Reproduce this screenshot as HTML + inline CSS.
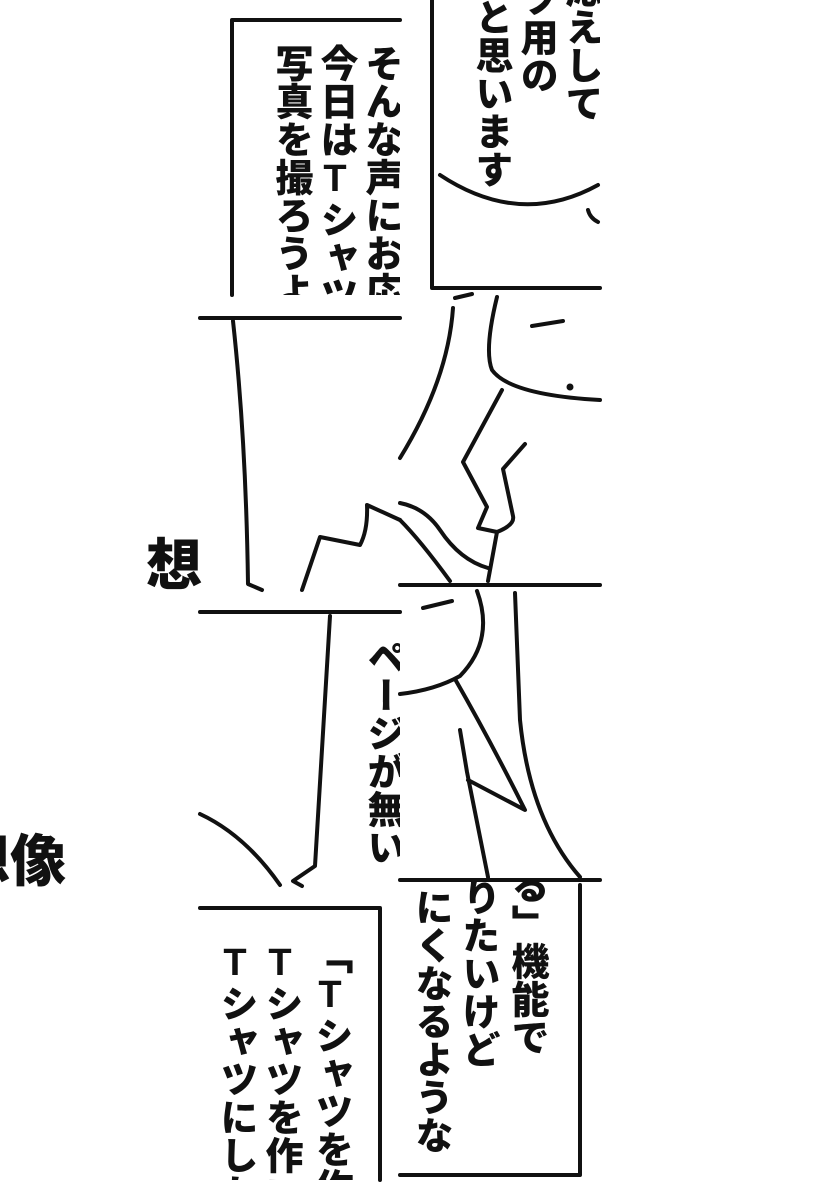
<!DOCTYPE html>
<html><head><meta charset="utf-8"><style>
html,body{margin:0;padding:0;background:#fff;}
body{width:820px;height:1200px;position:relative;overflow:hidden;}
.clip{position:absolute;overflow:hidden;}
.v{position:absolute;writing-mode:vertical-rl;text-orientation:upright;font-family:"Liberation Sans","Noto Sans CJK JP",sans-serif;font-weight:900;font-size:38px;line-height:38px;color:#111;white-space:nowrap;letter-spacing:0px;}
.big{position:absolute;font-family:"Liberation Sans","Noto Sans CJK JP",sans-serif;font-weight:900;font-size:56px;line-height:56px;color:#111;white-space:nowrap;}
svg{position:absolute;left:0;top:0;}
</style></head><body>
<svg width="820" height="1200" viewBox="0 0 820 1200" fill="none" stroke="#111" stroke-width="4" stroke-linecap="round" stroke-linejoin="round">
<path d="M232,295 L232,20 L400,20"/>
<path d="M432,0 L432,288 L600,288"/>
<path d="M440,175 Q520,228 598,185"/>
<path d="M588,210 Q590,218 598,222"/>
<path d="M455,298 L472,294"/>
<path d="M200,318 L400,318"/>
<path d="M233,321 Q246,440 248,584 L262,590"/>
<path d="M302,590 L320,537 L360,545 Q368,530 367,505 L400,520"/>
<path d="M453,308 Q448,380 400,458"/>
<path d="M497,297 Q484,350 492,370 Q510,395 600,400"/>
<path d="M532,326 L563,321"/>
<circle cx="570" cy="387" r="1.5" fill="#111"/>
<path d="M502,390 L463,462 L487,507 L478,528 L497,532 Q515,525 513,516 L503,469 L525,444"/>
<path d="M497,532 L488,581"/>
<path d="M400,503 Q425,508 440,530 Q460,560 488,568"/>
<path d="M400,520 Q420,540 450,581"/>
<path d="M400,585 L600,585"/>
<path d="M200,612 L400,612"/>
<path d="M330,616 L315,866 L293,881 L302,886"/>
<path d="M200,814 Q245,835 280,885"/>
<path d="M423,608 L452,601"/>
<path d="M477,591 Q495,640 460,676 Q435,690 400,694"/>
<path d="M455,679 Q490,740 525,810 L468,780"/>
<path d="M460,730 L467,772 L488,877"/>
<path d="M515,593 L520,720 Q530,820 580,877"/>
<path d="M400,880 L600,880"/>
<path d="M200,908 L380,908 L380,1180"/>
<path d="M580,885 L580,1175 L400,1175"/>
</svg>

<div class="clip" style="left:200px;top:0;width:200px;height:295px;">
<div class="v" style="left:161px;top:44px;">そんな声にお応</div>
<div class="v" style="left:116px;top:44px;">今日はTシャツ</div>
<div class="v" style="left:71px;top:44px;">写真を撮ろうよ</div>
</div>
<div class="clip" style="left:400px;top:0;width:200px;height:290px;">
<div class="v" style="left:161px;top:-30px;">応えして</div>
<div class="v" style="left:116px;top:-20px;">ツ用の</div>
<div class="v" style="left:71px;top:-2px;">と思います</div>
</div>
<div class="big" style="left:146px;top:538px;">想</div>
<div class="clip" style="left:0;top:820px;width:100px;height:80px;">
<div class="big" style="left:-46px;top:14px;">想像</div>
</div>
<div class="clip" style="left:200px;top:612px;width:200px;height:270px;">
<div class="v" style="left:163px;top:26px;">ページが無い</div>
</div>
<div class="clip" style="left:200px;top:908px;width:180px;height:272px;">
<div class="v" style="left:111px;top:28px;">「Tシャツを作</div>
<div class="v" style="left:61px;top:34px;">Tシャツを作い</div>
<div class="v" style="left:16px;top:34px;">Tシャツにした</div>
</div>
<div class="clip" style="left:400px;top:882px;width:180px;height:293px;">
<div class="v" style="left:107px;top:-16px;">る」機能で</div>
<div class="v" style="left:58px;top:-4px;">りたいけど</div>
<div class="v" style="left:11px;top:6px;">にくなるような</div>
</div>
</body></html>
